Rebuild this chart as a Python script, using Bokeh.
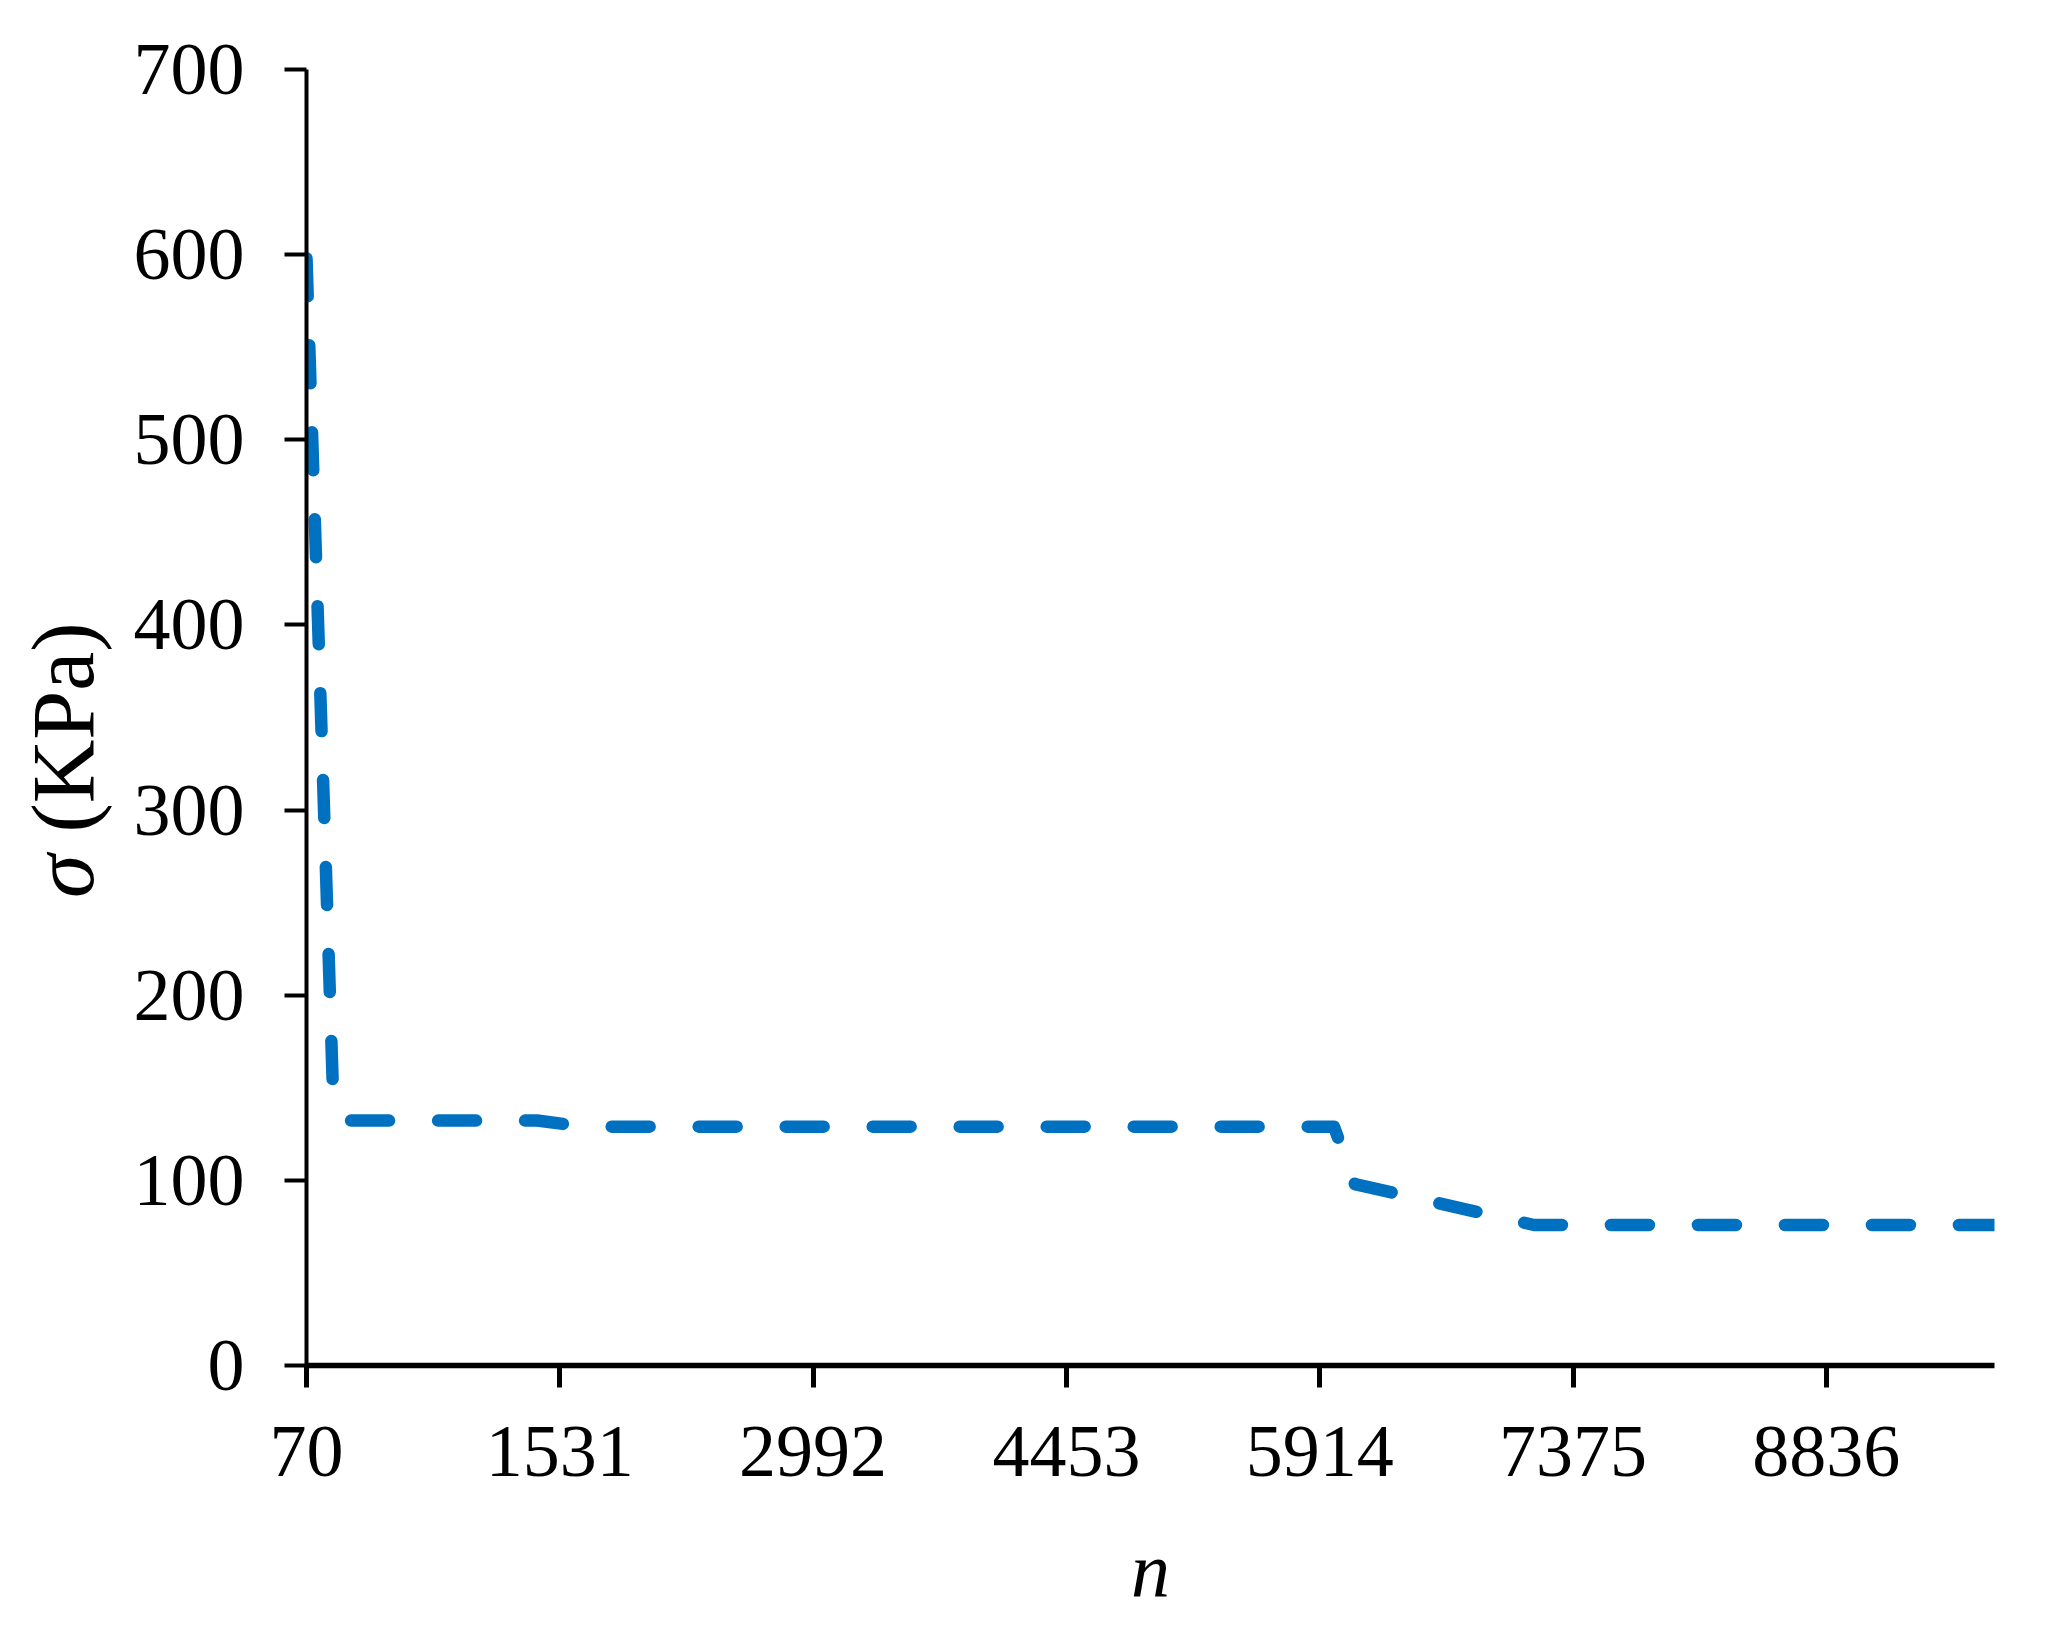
import math
from bokeh.plotting import figure
from bokeh.layouts import row
from bokeh.models import FixedTicker, Range1d, Label
from bokeh.embed import file_html
from bokeh.resources import INLINE

# ---- data ----
n_values = [70, 222, 300, 1400, 1670, 5996, 6117, 7150, 9806]
sigma_values = [598, 150, 132.3, 132.3, 129.0, 129.0, 98.0, 75.9, 75.9]

x_tick_values = [70, 1531, 2992, 4453, 5914, 7375, 8836]
y_tick_values = [0, 100, 200, 300, 400, 500, 600, 700]
x_min, x_max = 70, 9806
y_min, y_max = 0, 700

x_title = "n"
y_title_symbol = "σ"
y_title_rest = "(KPa)"

FONT = "Liberation Serif"
TOTAL_H = 1620
LEFT_W = 120

# ---- narrow figure that carries the y-axis title ----
side = figure(width=LEFT_W, height=TOTAL_H, output_backend="svg", toolbar_location=None,
              x_axis_type=None, y_axis_type=None, x_range=Range1d(0, 1), y_range=Range1d(0, 1),
              min_border=0)
side.outline_line_color = None
side.xgrid.visible = False
side.ygrid.visible = False
side.add_layout(Label(x=63, y=511, x_units="screen", y_units="screen",
                      text=y_title_symbol, text_font=FONT, text_font_style="italic",
                      text_font_size="88px", text_align="right", angle=math.pi / 2,
                      text_baseline="alphabetic", text_color="black"))
side.add_layout(Label(x=63, y=533, x_units="screen", y_units="screen",
                      text=y_title_rest, text_font=FONT, text_font_style="normal",
                      text_font_size="88px", text_align="left", angle=math.pi / 2,
                      text_baseline="alphabetic", text_color="black"))

# ---- main chart ----
p = figure(width=2040 - LEFT_W, height=TOTAL_H, output_backend="svg", toolbar_location=None,
           x_range=Range1d(x_min, x_max), y_range=Range1d(y_min, y_max),
           min_border_left=306 - LEFT_W, min_border_right=46, min_border_top=69,
           min_border_bottom=TOTAL_H - 1365)
p.outline_line_color = None
p.background_fill_color = "white"
p.border_fill_color = "white"
p.xgrid.visible = False
p.ygrid.visible = False

p.line(n_values, sigma_values, line_color="#0070C0", line_width=12.5,
       line_dash="38 49", line_cap="round", line_join="round")

# x axis
xa = p.xaxis[0]
xa.ticker = FixedTicker(ticks=x_tick_values)
xa.axis_line_width = 5.5
xa.axis_line_color = "black"
xa.major_tick_line_width = 5
xa.major_tick_line_color = "black"
xa.major_tick_out = 22
xa.major_tick_in = 0
xa.minor_tick_line_color = None
xa.major_label_text_font = FONT
xa.major_label_text_font_size = "74px"
xa.major_label_text_color = "black"
xa.major_label_standoff = 39
xa.axis_label = x_title
xa.axis_label_text_font = FONT
xa.axis_label_text_font_style = "italic"
xa.axis_label_text_font_size = "78px"
xa.axis_label_text_color = "black"
xa.axis_label_standoff = 48

# y axis
ya = p.yaxis[0]
ya.ticker = FixedTicker(ticks=y_tick_values)
ya.axis_line_width = 4
ya.axis_line_color = "black"
ya.major_tick_line_width = 4
ya.major_tick_line_color = "black"
ya.major_tick_out = 22
ya.major_tick_in = 0
ya.minor_tick_line_color = None
ya.major_label_text_font = FONT
ya.major_label_text_font_size = "74px"
ya.major_label_text_color = "black"
ya.major_label_standoff = 40

layout = row(side, p)
open("out.html", "w").write(file_html(layout, INLINE))
